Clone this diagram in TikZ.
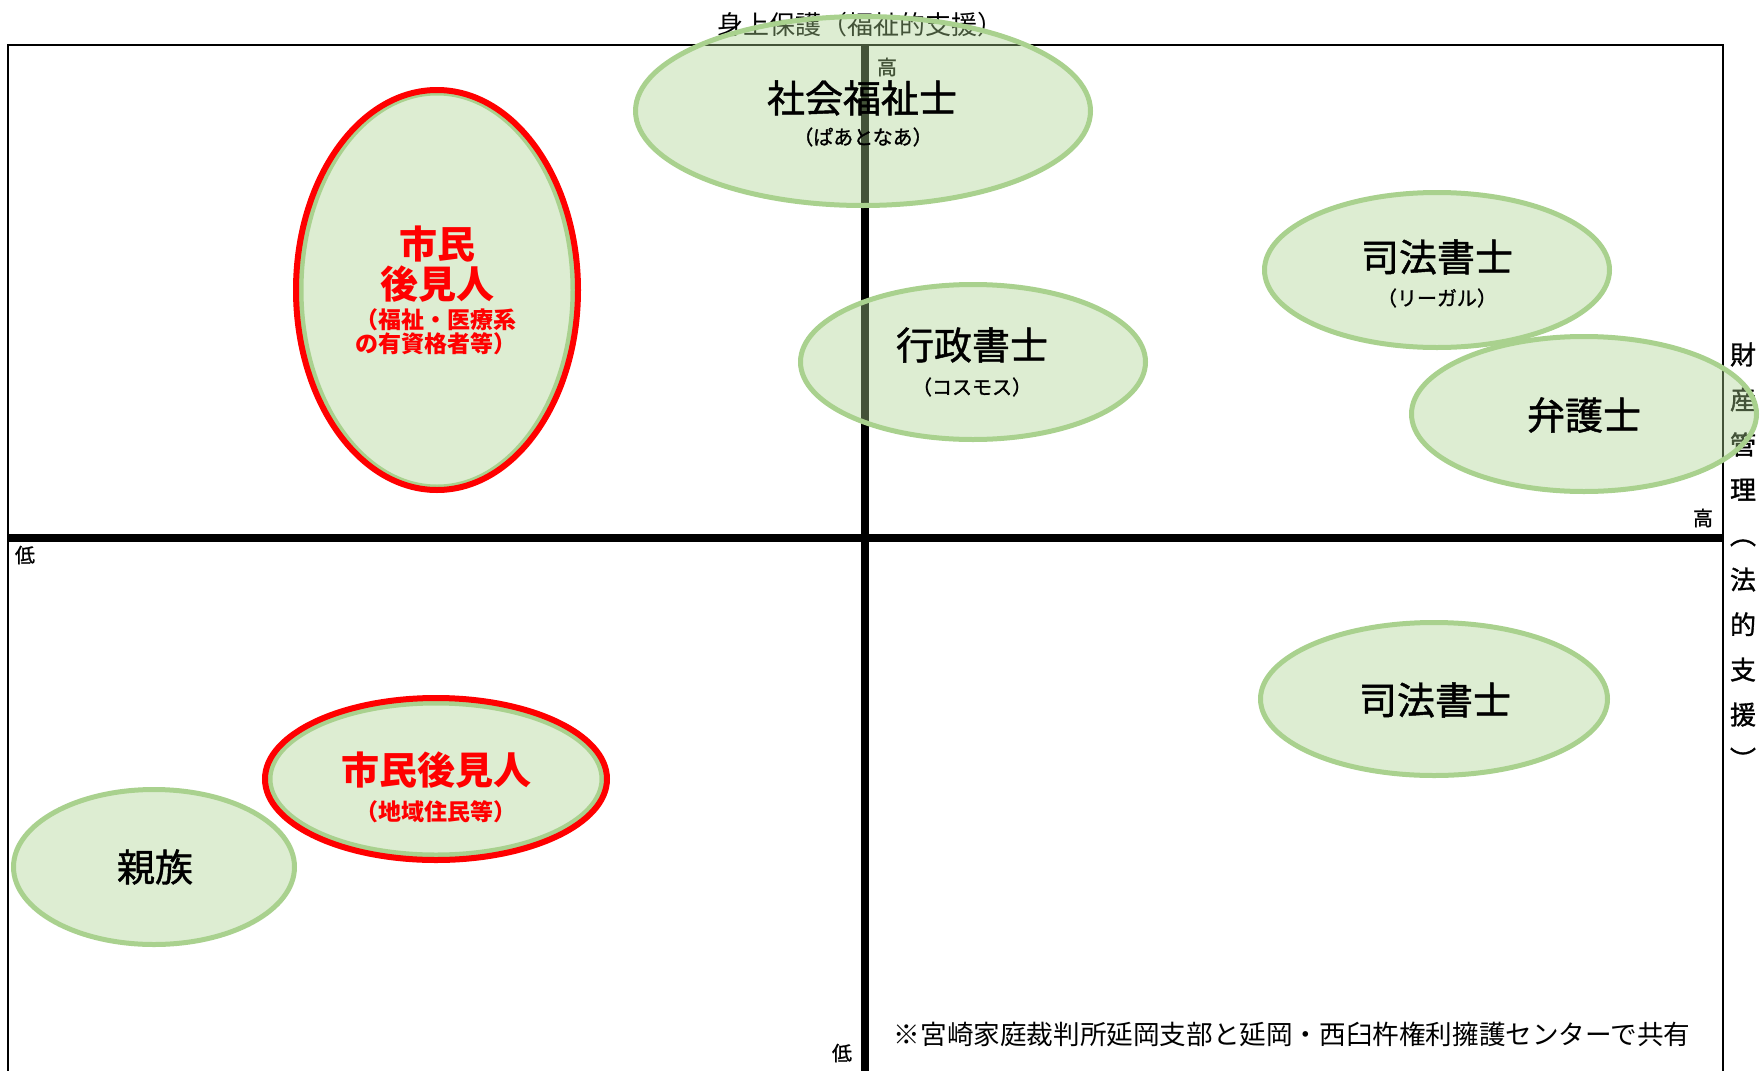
\documentclass[tikz,border=0pt]{standalone}
\usepackage{fontspec}
\setmainfont{Noto Sans CJK JP}
\newfontfamily\medjp{Noto Sans CJK JP}[FakeBold=1.2]
\usetikzlibrary{shapes.geometric}
\definecolor{gborder}{HTML}{A9D18E}
\definecolor{redline}{HTML}{FF0000}
\begin{document}
\begin{tikzpicture}[x=1pt,y=-1pt,
  oval/.style={ellipse, draw=gborder, line width=5pt, fill=gborder, fill opacity=0.4, draw opacity=1, inner sep=0pt},
  redoval/.style={ellipse, draw=redline, line width=6pt, inner sep=0pt},
  bigtext/.style={font=\medjp\fontsize{38}{40}\selectfont, text=black, inner sep=0pt},
  subtext/.style={font=\medjp\fontsize{20}{22}\selectfont, text=black, inner sep=0pt},
  redbig/.style={font=\bfseries\fontsize{38}{40}\selectfont, text=redline, inner sep=0pt},
  redsub/.style={font=\bfseries\fontsize{23}{24}\selectfont, text=redline, inner sep=0pt},
  axislabel/.style={font=\medjp\fontsize{20}{22}\selectfont, text=black, inner sep=0pt},
  axisline/.style={line width=8pt, black},
  frameline/.style={line width=1.5pt, black}]
\useasboundingbox (0,0) rectangle (1762,1071);
% frame
\coordinate (fbl) at (8,1071);
\coordinate (ftl) at (8,45);
\coordinate (ftr) at (1723,45);
\coordinate (fbr) at (1723,1071);
\draw[frameline] (fbl) -- (ftl) -- (ftr) -- (fbr);
% axes
\coordinate (vtop) at (865,45);
\coordinate (vbot) at (865,1071);
\coordinate (hl) at (8,538);
\coordinate (hr) at (1723,538);
\draw[axisline] (vtop) -- (vbot);
\draw[axisline] (hl) -- (hr);
% axis labels
\node[font=\fontsize{26}{28}\selectfont, inner sep=0pt] (title) at (860,25) {身上保護（福祉的支援）};
\node[axislabel] (hiT) at (887,67) {高};
\node[axislabel] (loL) at (25,555) {低};
\node[axislabel] (hiR) at (1703,518) {高};
\node[axislabel] (loB) at (842,1053) {低};
\node[font=\medjp\fontsize{26}{45}\selectfont, align=center, inner sep=0pt] (rlabel) at (1743,556)
  {財\\産\\管\\理\\︵\\法\\的\\支\\援\\︶};
% ellipses
\node[oval, minimum width=455pt, minimum height=189pt] (sw) at (863,111) {};
\node[oval, minimum width=345pt, minimum height=155pt] (gs) at (973,362) {};
\node[oval, minimum width=345pt, minimum height=155pt] (sh1) at (1437,270) {};
\node[oval, minimum width=345pt, minimum height=155pt] (bg) at (1584,414) {};
\node[oval, minimum width=347pt, minimum height=153pt] (sh2) at (1434,699) {};
\node[oval, minimum width=281pt, minimum height=155pt] (sz) at (154,867) {};
\node[oval, minimum width=272pt, minimum height=394pt] (sk1) at (437,290) {};
\node[redoval, minimum width=282pt, minimum height=400pt] (sk1r) at (437,290) {};
\node[oval, minimum width=332pt, minimum height=152pt] (sk2) at (436,779) {};
\node[redoval, minimum width=342pt, minimum height=162pt] (sk2r) at (436,779) {};
% texts
\node[bigtext] (swm) at (862,98) {社会福祉士};
\node[subtext] (sws) at (863,137) {（ぱあとなあ）};
\node[bigtext] (gsm) at (972,345) {行政書士};
\node[subtext] (gss) at (972,387) {（コスモス）};
\node[bigtext] (sh1m) at (1437,257) {司法書士};
\node[subtext] (sh1s) at (1437,298) {（リーガル）};
\node[bigtext] (bgm) at (1584,415) {弁護士};
\node[bigtext] (sh2m) at (1435,700) {司法書士};
\node[bigtext] (szm) at (155,867) {親族};
\node[redbig] (sk1a) at (437,244) {市民};
\node[redbig] (sk1b) at (437,284) {後見人};
\node[redsub] (sk1c) at (436,320) {（福祉・医療系};
\node[redsub] (sk1d) at (436,344) {の有資格者等）};
\node[redbig] (sk2m) at (436,770) {市民後見人};
\node[redsub] (sk2s) at (436,812) {（地域住民等）};
% footnote
\node[font=\fontsize{26.6}{28}\selectfont, inner sep=0pt] (note) at (1292,1034) {※宮崎家庭裁判所延岡支部と延岡・西臼杵権利擁護センターで共有};
\end{tikzpicture}
\end{document}
